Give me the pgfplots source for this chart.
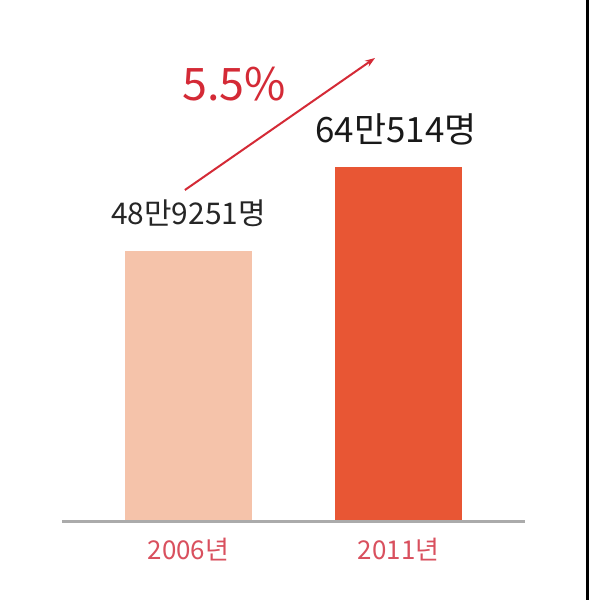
\documentclass[border=0pt]{standalone}
\usepackage{pgfplots}
\pgfplotsset{compat=1.18}
\usetikzlibrary{arrows.meta}
\usepackage{fontspec}
\setmainfont{Noto Sans CJK KR}
\definecolor{barA}{HTML}{F5C3AA}
\definecolor{barB}{HTML}{E85634}
\definecolor{redtxt}{HTML}{D42A36}
\definecolor{yeartxt}{HTML}{D9505E}
\begin{document}
\begin{tikzpicture}[x=1bp,y=1bp]
\useasboundingbox (0,0) rectangle (589,600);
\fill[white] (0,0) rectangle (589,600);
\begin{axis}[
  at={(62bp,78bp)}, anchor=south west,
  width=463bp, height=482bp, scale only axis,
  ymin=0, ymax=869655, xmin=-0.602, xmax=1.602,
  axis y line=none, axis x line*=bottom,
  axis line style={draw=black!33, line width=3bp},
  xtick={0,1}, xticklabels={2006년,2011년},
  ytick=\empty, major tick length=0pt,
  xticklabel style={font=\fontsize{26}{26}\selectfont, text=yeartxt, yshift=-13bp},
  ybar, bar width=127bp, bar shift=0pt,
  clip=false, axis on top,
]
\addplot[fill=barA, draw=none] coordinates {(0,489251)};
\addplot[fill=barB, draw=none] coordinates {(1,640514)};
\node[font=\fontsize{30}{30}\selectfont, text=black!85] at (axis cs:0,557500) {48만9251명};
\node[font=\fontsize{35}{35}\selectfont, text=black!90] at (axis cs:0.988,709100) {64만514명};
\node[font=\fontsize{45}{45}\selectfont, text=redtxt] at (axis cs:0.217,790300) {5.5\%};
\draw[-{Stealth[length=10bp,width=7bp]}, redtxt, line width=2bp] (axis cs:-0.017,599000) -- (axis cs:0.888,837200);
\end{axis}
\draw[black, line width=2.5bp] (587.5,0) -- (587.5,600);
\end{tikzpicture}
\end{document}
